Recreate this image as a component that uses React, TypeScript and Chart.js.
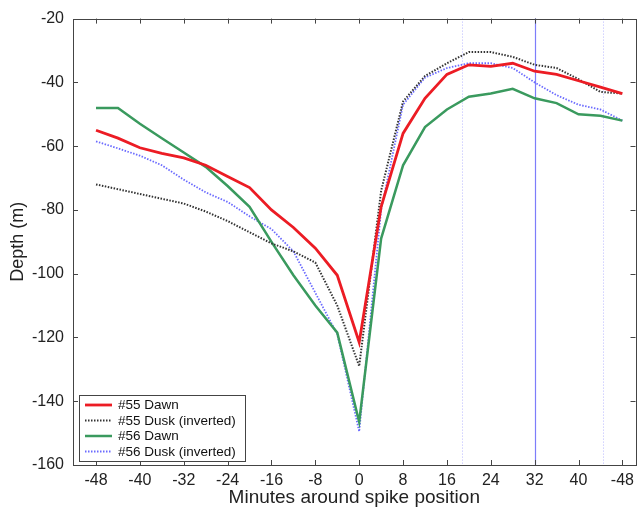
import React, { useEffect, useRef } from "react";
import { Chart, registerables } from "chart.js";

Chart.register(...registerables);

const minutes = [-48, -44, -40, -36, -32, -28, -24, -20, -16, -12, -8, -4, 0, 4, 8, 12, 16, 20, 24, 28, 32, 36, 40, 44, 48];

const dawn55 = [-55, -57.5, -60.5, -62.3, -63.7, -66, -69.5, -73, -80, -85.5, -92, -100.5, -121.5, -79, -56, -45, -37.5, -34.5, -35, -34, -36.5, -37.5, -39.5, -41.5, -43.5];
const dusk55 = [-72, -73.5, -75, -76.5, -78, -80.5, -83.5, -87, -90.5, -93, -96.5, -110, -129, -74, -46, -38, -34, -30.5, -30.5, -32, -34.5, -35.5, -39, -43, -43.5];
const dawn56 = [-48, -48, -53, -57.5, -62, -66.5, -72.5, -79, -90, -100.5, -110, -118.5, -146.5, -89, -66, -54, -48.5, -44.5, -43.5, -42, -45, -46.5, -50, -50.5, -52];
const dusk56 = [-58.5, -60.7, -63, -66, -70.5, -74.5, -77.5, -82, -86, -93, -106, -119, -149.5, -80, -47, -38.5, -35.5, -34, -34, -35.5, -40, -44, -47, -48.5, -52];

const seriesNames = ["#55 Dawn", "#55 Dusk (inverted)", "#56 Dawn", "#56 Dusk (inverted)"];

const xTickValues = [-48, -40, -32, -24, -16, -8, 0, 8, 16, 24, 32, 40, 48];
const xTickLabels = ["-48", "-40", "-32", "-24", "-16", "-8", "0", "8", "16", "24", "32", "40", "-48"];
const yTickValues = [-160, -140, -120, -100, -80, -60, -40, -20];

const markerMinutes = [18.7, 32, 44.4];
const markerSolid = [false, true, false];

const FONT = "'Liberation Sans', Arial, sans-serif";

export default function App() {
  const ref = useRef<HTMLCanvasElement | null>(null);

  useEffect(() => {
    document.body.style.margin = "0";
    const canvas = ref.current;
    if (!canvas) return;

    const toPts = (arr: number[]) => minutes.map((m, i) => ({ x: m, y: arr[i] }));

    const markersPlugin = {
      id: "markers",
      beforeDatasetsDraw(chart: any) {
        const { ctx, chartArea, scales } = chart;
        ctx.save();
        markerMinutes.forEach((m, i) => {
          const x = Math.round(scales.x.getPixelForValue(m)) + 0.5;
          ctx.beginPath();
          if (markerSolid[i]) {
            ctx.strokeStyle = "#7d7dfa";
            ctx.lineWidth = 1.2;
            ctx.setLineDash([]);
          } else {
            ctx.strokeStyle = "#b8b8ff";
            ctx.lineWidth = 1;
            ctx.setLineDash([1, 2]);
          }
          ctx.moveTo(x, chartArea.top);
          ctx.lineTo(x, chartArea.bottom);
          ctx.stroke();
        });
        ctx.restore();
      },
    };

    const framePlugin = {
      id: "frame",
      afterDatasetsDraw(chart: any) {
        const { ctx, chartArea, scales } = chart;
        const { left, right, top, bottom } = chartArea;
        ctx.save();
        ctx.strokeStyle = "#444";
        ctx.lineWidth = 1;
        ctx.setLineDash([]);
        ctx.strokeRect(Math.round(left) + 0.5, Math.round(top) + 0.5, Math.round(right - left), Math.round(bottom - top));
        const tl = 5;
        ctx.beginPath();
        xTickValues.forEach((v) => {
          const x = Math.round(scales.x.getPixelForValue(v)) + 0.5;
          ctx.moveTo(x, bottom);
          ctx.lineTo(x, bottom - tl);
          ctx.moveTo(x, top);
          ctx.lineTo(x, top + tl);
        });
        yTickValues.forEach((v) => {
          const y = Math.round(scales.y.getPixelForValue(v)) + 0.5;
          ctx.moveTo(left, y);
          ctx.lineTo(left + tl, y);
          ctx.moveTo(right, y);
          ctx.lineTo(right - tl, y);
        });
        ctx.stroke();

        // legend
        const lx = 79, ly = 395, lw = 166, lh = 66;
        ctx.fillStyle = "#fff";
        ctx.fillRect(lx, ly, lw, lh);
        ctx.strokeStyle = "#444";
        ctx.strokeRect(lx + 0.5, ly + 0.5, lw, lh);
        ctx.font = `13.5px ${FONT}`;
        ctx.textBaseline = "middle";
        ctx.textAlign = "left";
        chart.data.datasets.forEach((ds: any, i: number) => {
          const cy = ly + 10 + i * 15.5;
          ctx.beginPath();
          ctx.strokeStyle = ds.borderColor;
          ctx.lineWidth = ds.borderWidth;
          ctx.setLineDash(ds.borderDash || []);
          ctx.moveTo(lx + 6, cy);
          ctx.lineTo(lx + 33, cy);
          ctx.stroke();
          ctx.setLineDash([]);
          ctx.fillStyle = "#111";
          ctx.fillText(ds.label, lx + 39, cy + 0.5);
        });
        ctx.restore();
      },
    };

    const chart = new Chart(canvas, {
      type: "line",
      data: {
        datasets: [
          { label: seriesNames[0], data: toPts(dawn55), borderColor: "#ec1c24", borderWidth: 2.8, pointRadius: 0, tension: 0 },
          { label: seriesNames[1], data: toPts(dusk55), borderColor: "#333333", borderWidth: 2, borderDash: [1.5, 1.5], pointRadius: 0, tension: 0 },
          { label: seriesNames[2], data: toPts(dawn56), borderColor: "#3a9a5e", borderWidth: 2.5, pointRadius: 0, tension: 0 },
          { label: seriesNames[3], data: toPts(dusk56), borderColor: "#6b6bff", borderWidth: 1.8, borderDash: [1.5, 1.5], pointRadius: 0, tension: 0 },
        ],
      },
      options: {
        responsive: false,
        animation: false,
        layout: { padding: { top: 18, right: 3, left: 0, bottom: 0 } },
        plugins: { legend: { display: false }, tooltip: { enabled: false } },
        scales: {
          x: {
            type: "linear",
            min: -52.2,
            max: 50.4,
            grid: { display: false, drawTicks: false },
            border: { display: false },
            afterBuildTicks: (scale: any) => {
              scale.ticks = xTickValues.map((v) => ({ value: v }));
            },
            afterFit: (scale: any) => {
              scale.height = 53;
            },
            ticks: {
              padding: 6,
              autoSkip: false,
              maxRotation: 0,
              color: "#222",
              font: { family: FONT, size: 16 },
              callback: (v: any) => {
                const i = xTickValues.indexOf(Number(v));
                return i >= 0 ? xTickLabels[i] : "";
              },
            },
            title: {
              display: true,
              text: "Minutes around spike position",
              color: "#222",
              font: { family: FONT, size: 19 },
              padding: { top: 0, bottom: 9 },
            },
          },
          y: {
            min: -160,
            max: -20,
            grid: { display: false, drawTicks: false },
            border: { display: false },
            afterBuildTicks: (scale: any) => {
              scale.ticks = yTickValues.map((v) => ({ value: v }));
            },
            afterFit: (scale: any) => {
              scale.width = 73;
            },
            ticks: {
              padding: 9,
              color: "#222",
              font: { family: FONT, size: 16 },
              callback: (v: any) => String(v),
            },
            title: {
              display: true,
              text: "Depth (m)",
              color: "#222",
              font: { family: FONT, size: 18 },
              padding: { top: 7, bottom: 0 },
            },
          },
        },
      },
      plugins: [markersPlugin, framePlugin],
    });

    return () => chart.destroy();
  }, []);

  return (
    <div style={{ width: 640, height: 518, background: "#fff" }}>
      <canvas ref={ref} width={640} height={518} style={{ display: "block" }} />
    </div>
  );
}
